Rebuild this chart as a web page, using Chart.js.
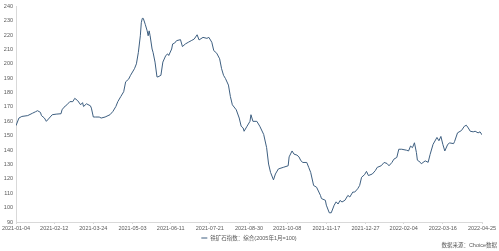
<!DOCTYPE html>
<html>
<head>
<meta charset="utf-8">
<script src="https://cdn.jsdelivr.net/npm/chart.js@4"></script>
<style>
  html, body { margin: 0; padding: 0; background: #fff; }
  #wrap { width: 499px; height: 251px; }
</style>
</head>
<body>
<div id="wrap"><canvas id="ironChart" width="499" height="251"></canvas></div>
<script>
// 起始日期（偏移天数从这一天算起）
const startDate = '2021-01-04';

// 横轴刻度标签
const tickLabels = ['2021-01-04', '2021-02-12', '2021-03-24', '2021-05-03', '2021-06-11',
    '2021-07-21', '2021-08-30', '2021-10-08', '2021-11-17', '2021-12-27',
    '2022-02-04', '2022-03-16', '2022-04-25'];

// 纵轴刻度
const yTicks = [90, 100, 110, 120, 130, 140, 150, 160, 170, 180, 190, 200, 210, 220, 230, 240];

// 距起始日期的天数
const days = [0, 3, 6, 12, 17, 20, 22, 25, 26, 29, 31, 34, 37, 41, 46, 47, 49, 52, 55, 58,
    60, 63, 66, 68, 69, 72, 76, 77, 79, 81, 85, 87, 91, 96, 99, 102, 104, 107, 110, 112,
    115, 117, 121, 123, 125, 127, 128, 129, 130, 132, 134, 135, 136, 137, 139, 140, 142, 144, 145, 148,
    150, 153, 155, 156, 159, 160, 162, 164, 168, 170, 173, 176, 179, 182, 185, 187, 191, 195, 197, 200,
    202, 205, 208, 210, 212, 214, 217, 219, 221, 225, 228, 230, 232, 233, 236, 239, 240, 242, 246, 249,
    253, 256, 258, 260, 263, 265, 268, 273, 278, 279, 282, 284, 287, 289, 291, 293, 297, 299, 301, 304,
    307, 311, 312, 316, 317, 320, 322, 325, 327, 329, 331, 333, 336, 339, 341, 344, 346, 349, 351, 353,
    356, 358, 360, 364, 367, 369, 373, 376, 379, 381, 384, 386, 389, 391, 394, 399, 401, 403, 405, 407,
    409, 410, 413, 414, 418, 421, 423, 426, 430, 432, 434, 436, 438, 441, 443, 447, 448, 451, 455, 458,
    460, 462, 464, 467, 469, 472, 474, 476];

// 铁矿石指数：综合
const ironIndex = [157, 162.3, 163.4, 164, 165.7, 166.7, 167.4, 166.2, 164, 162.3, 160, 162.3, 164.6, 165, 165.3, 168, 169.8, 171.5, 173.7, 173.7,
    176, 174.4, 171.5, 173, 170.3, 172.2, 170.8, 169.2, 163, 163, 163, 162.3, 163, 164.6, 166.9, 170.3, 173.7, 177.2, 180.6, 187.5,
    189.3, 192, 196.6, 200, 208, 219.5, 228.6, 231.6, 231.6, 227.5, 222.9, 219.5, 222.9, 219.5, 210.3, 208, 201.2, 190.9, 190.9, 192,
    201.2, 205.8, 206.9, 205.8, 210.3, 213.8, 214.4, 216.1, 216.8, 212, 213.8, 215, 216.1, 217.2, 220.2, 216.6, 218.4, 217.7, 218.4, 215,
    209.2, 207.4, 203.5, 196.6, 192, 189.7, 185.2, 177.2, 171.5, 168, 162.3, 156.6, 155.4, 153.1, 156.6, 160, 164.6, 160, 160, 156.6,
    150.9, 141.7, 130.3, 124.5, 119.3, 123.4, 126.9, 128, 129.1, 135.3, 139.4, 137.2, 136.5, 135.3, 132.6, 131.4, 131.4, 128, 124.5, 115.4,
    114.2, 108.5, 106.3, 105.1, 101.7, 96.4, 96.4, 101.7, 104, 102.5, 105, 103.9, 105.1, 108.5, 107.4, 110.8, 110.8, 113.1, 115.4, 121.1,
    122.9, 125.2, 122.3, 123.4, 125.7, 128, 129.1, 131.4, 130.7, 129.1, 131.4, 133.7, 134.9, 140.6, 140.6, 139.9, 139.4, 142.8, 141.7, 145.1,
    138.3, 133, 131.5, 130.5, 132.5, 131.5, 137, 144, 148.8, 146.5, 149.5, 144, 139.4, 144, 145, 144.5, 146, 152, 153.6, 156.6,
    157.3, 155.4, 153.1, 152.7, 153.1, 152, 152.7, 150.6];

const seriesName = '铁矿石指数：综合(2005年1月=100)';
const sourceText = '数据来源：Choice数据';

const LINE_COLOR = '#3e5f80';
const TEXT_COLOR = '#595959';
const FONT = '"Liberation Sans", "Noto Sans CJK SC", sans-serif';
const DAY = 86400000;

function dayOffset(s) {
    return Math.round((Date.parse(s) - Date.parse(startDate)) / DAY);
}

const tickDays = tickLabels.map(dayOffset);

// 图例和数据来源（画在图表下方）
const footerPlugin = {
    id: 'footerText',
    afterDraw(chart) {
        const ctx = chart.ctx;
        const name = chart.data.datasets[0].label;
        ctx.save();
        ctx.font = '5.5px ' + FONT;
        ctx.textBaseline = 'middle';

        // 图例：短线 + 系列名称
        const textW = ctx.measureText(name).width;
        const lineW = 6, gap = 3;
        const left = (chart.chartArea.left + chart.chartArea.right) / 2 - (lineW + gap + textW) / 2;
        ctx.strokeStyle = LINE_COLOR;
        ctx.lineWidth = 1;
        ctx.beginPath();
        ctx.moveTo(left, 238);
        ctx.lineTo(left + lineW, 238);
        ctx.stroke();
        ctx.fillStyle = TEXT_COLOR;
        ctx.textAlign = 'left';
        ctx.fillText(name, left + lineW + gap, 238);

        // 数据来源
        ctx.textAlign = 'right';
        ctx.fillText(sourceText, 497, 245);
        ctx.restore();
    }
};

document.addEventListener('DOMContentLoaded', function() {
    const ctx = document.getElementById('ironChart').getContext('2d');

    new Chart(ctx, {
        type: 'line',
        data: {
            datasets: [{
                label: seriesName,
                data: days.map((d, i) => ({ x: d, y: ironIndex[i] })),
                borderColor: LINE_COLOR,
                borderWidth: 1,
                pointRadius: 0,
                tension: 0,
                fill: false
            }]
        },
        options: {
            responsive: false,
            animation: false,
            layout: {
                padding: { top: 3, right: 17, bottom: 19, left: 0 }
            },
            plugins: {
                legend: { display: false },
                tooltip: { enabled: false }
            },
            scales: {
                x: {
                    type: 'linear',
                    min: 0,
                    max: tickDays[tickDays.length - 1],
                    afterBuildTicks: function(scale) {
                        scale.ticks = tickDays.map(v => ({ value: v }));
                    },
                    afterFit: function(scale) {
                        scale.height = 10;
                    },
                    ticks: {
                        autoSkip: false,
                        maxRotation: 0,
                        padding: 1,
                        color: TEXT_COLOR,
                        font: { size: 5.5, family: FONT },
                        callback: function(value) {
                            const i = tickDays.indexOf(value);
                            return i >= 0 ? tickLabels[i] : '';
                        }
                    },
                    grid: {
                        drawOnChartArea: false,
                        drawTicks: true,
                        tickLength: 2,
                        color: '#d9d9d9'
                    },
                    border: { color: '#d9d9d9' }
                },
                y: {
                    min: yTicks[0],
                    max: yTicks[yTicks.length - 1],
                    afterBuildTicks: function(scale) {
                        scale.ticks = yTicks.map(v => ({ value: v }));
                    },
                    afterFit: function(scale) {
                        scale.width = 16;
                    },
                    ticks: {
                        padding: 3,
                        color: TEXT_COLOR,
                        font: { size: 5.5, family: FONT }
                    },
                    grid: { display: false, drawTicks: false, tickLength: 0 },
                    border: { color: '#d9d9d9' }
                }
            }
        },
        plugins: [footerPlugin]
    });
});
</script>
</body>
</html>
